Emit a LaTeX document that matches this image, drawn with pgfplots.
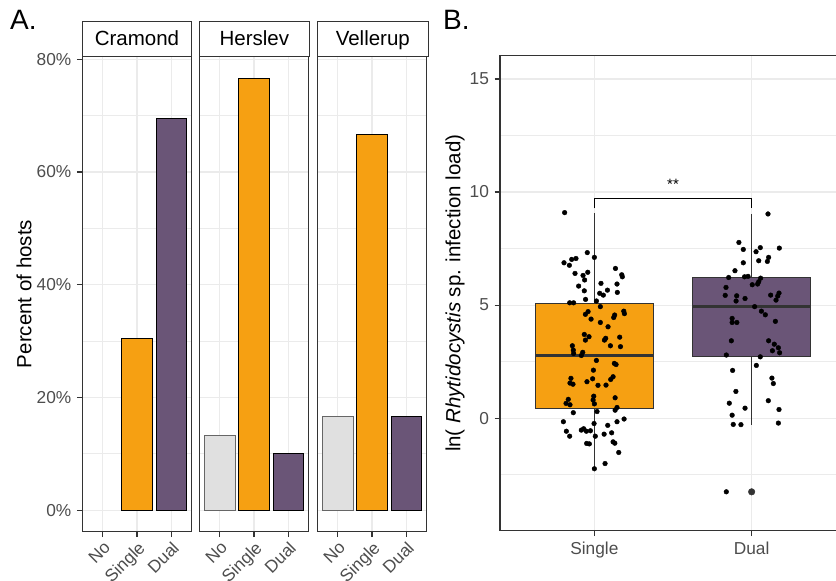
\documentclass[border=0pt]{standalone}
\usepackage{pgfplots}
\pgfplotsset{compat=1.18}
\usepgfplotslibrary{statistics}
\usepackage{fontspec}
\setmainfont{Liberation Sans}
\definecolor{orangeS}{HTML}{F6A012}
\definecolor{purpD}{HTML}{6A5577}
\definecolor{greyN}{HTML}{E0E0E0}
\definecolor{framec}{HTML}{333333}
\definecolor{gridc}{HTML}{EBEBEB}
\definecolor{ticktxt}{HTML}{4D4D4D}

\pgfplotstableread{
x y
0.811 9.09
0.955 7.32
1.000 7.11
0.883 7.06
0.856 7.02
0.807 6.87
0.841 6.76
1.134 6.62
1.174 6.34
1.178 6.25
0.958 6.45
0.877 6.40
0.928 6.31
0.938 6.11
1.042 5.96
1.144 5.93
0.900 5.84
1.083 5.66
0.936 5.63
1.034 5.52
1.057 5.44
1.146 5.56
0.944 5.25
1.013 5.18
0.843 5.10
0.868 5.10
1.038 4.93
0.960 4.71
0.943 4.59
1.187 4.73
1.191 4.62
1.129 4.56
1.123 4.45
0.979 4.38
1.038 4.23
1.087 4.04
0.936 3.70
0.966 3.60
0.943 3.45
1.072 3.53
1.064 3.45
1.161 3.58
1.166 3.16
1.102 3.20
0.860 3.20
0.866 3.01
0.868 2.86
0.926 2.91
0.917 2.77
1.013 2.55
1.127 2.42
1.138 2.37
0.994 2.12
1.119 1.83
1.104 1.71
0.851 1.76
0.845 1.55
0.864 1.50
0.953 1.61
0.989 1.74
1.023 1.45
1.074 1.46
0.834 0.83
0.820 0.65
0.845 0.59
0.996 0.97
0.992 0.80
1.000 0.63
1.132 0.90
1.144 0.47
1.132 0.35
1.017 0.29
0.866 0.24
0.803 -0.16
1.189 -0.04
1.144 -0.16
0.998 -0.24
1.085 -0.32
0.822 -0.58
0.843 -0.80
0.917 -0.53
0.932 -0.47
0.949 -0.58
0.975 -0.56
1.006 -0.80
1.062 -0.71
1.110 -0.65
1.119 -1.05
1.130 -1.11
0.951 -1.12
0.968 -1.14
1.155 -1.52
1.068 -2.01
1.000 -2.24
}\singlepts

\pgfplotstableread{
x y
2.104 9.03
1.919 7.77
1.947 7.46
2.055 7.54
2.028 7.36
2.176 7.52
2.108 7.11
2.100 6.93
2.045 6.96
1.947 6.87
1.894 6.52
1.854 6.22
1.955 6.25
1.977 6.27
2.057 6.19
2.045 6.03
2.038 5.93
2.004 5.90
1.837 5.78
1.832 5.43
1.905 5.41
1.901 5.18
1.958 5.29
2.121 5.44
2.174 5.53
2.166 5.40
2.155 5.22
2.019 4.93
2.062 4.73
2.087 4.57
1.876 4.41
1.876 4.23
1.906 4.23
2.151 4.28
1.871 3.42
2.108 3.42
2.144 3.27
2.170 3.11
2.132 2.98
2.178 2.89
1.839 2.79
2.055 2.71
2.030 2.33
1.879 2.11
2.129 1.77
2.138 1.53
1.900 1.18
1.858 0.66
2.106 0.77
1.958 0.44
2.174 0.38
1.876 0.13
1.883 -0.28
1.932 -0.29
2.170 -0.22
1.839 -3.26
}\dualpts

\pgfplotsset{
  common/.style={
    scale only axis, anchor=south west,
    axis line style={framec, line width=1.1pt},
    xmajorgrids, ymajorgrids, yminorgrids,
    major grid style={gridc, line width=1.1pt},
    minor grid style={gridc, line width=0.55pt},
    tick align=outside, xtick pos=bottom, ytick pos=left,
    major tick length=5.5pt, minor tick length=0pt,
    tick style={framec, line width=1.1pt},
    /pgf/number format/assume math mode=true,
    ticklabel style={font=\fontsize{17.3}{20}\selectfont, text=ticktxt},
    clip=false,
  },
  facet/.style={
    common,
    width=109.4pt, height=475.4pt,
    xmin=0.4, xmax=3.6, ymin=-3.83, ymax=80.53,
    xtick={1,2,3}, xticklabels={No,Single,Dual},
    ytick={0,20,40,60,80},
    minor ytick={10,30,50,70},
    xticklabel style={rotate=45, anchor=north east, inner sep=0pt},
    xticklabel shift=3pt,
    yticklabel shift=2pt,
  },
}

\begin{document}
\begin{tikzpicture}[x=1pt,y=1pt]
\useasboundingbox (0,0) rectangle (836,581);

% ---------- Panel A ----------
\begin{axis}[facet, at={(82.3pt,49.3pt)},
  yticklabels={0\%,20\%,40\%,60\%,80\%},
  ylabel={Percent of hosts},
  every axis y label/.style={at={(axis description cs:-0.533,0.5)}, rotate=90, anchor=center, font=\fontsize{20.5}{24}\selectfont}]
\addplot[ybar, bar shift=0pt, bar width=0.9, fill=orangeS, draw=black, line width=0.6pt] coordinates {(2,30.4)};
\addplot[ybar, bar shift=0pt, bar width=0.9, fill=purpD, draw=black, line width=0.6pt] coordinates {(3,69.6)};
\end{axis}

\begin{axis}[facet, at={(199.3pt,49.3pt)}, yticklabels={}, y tick style={draw=none}]
\addplot[ybar, bar shift=0pt, bar width=0.9, fill=greyN, draw=black!60, line width=0.6pt] coordinates {(1,13.3)};
\addplot[ybar, bar shift=0pt, bar width=0.9, fill=orangeS, draw=black, line width=0.6pt] coordinates {(2,76.7)};
\addplot[ybar, bar shift=0pt, bar width=0.9, fill=purpD, draw=black, line width=0.6pt] coordinates {(3,10.0)};
\end{axis}

\begin{axis}[facet, at={(317.3pt,49.3pt)}, yticklabels={}, y tick style={draw=none}]
\addplot[ybar, bar shift=0pt, bar width=0.9, fill=greyN, draw=black!60, line width=0.6pt] coordinates {(1,16.7)};
\addplot[ybar, bar shift=0pt, bar width=0.9, fill=orangeS, draw=black, line width=0.6pt] coordinates {(2,66.7)};
\addplot[ybar, bar shift=0pt, bar width=0.9, fill=purpD, draw=black, line width=0.6pt] coordinates {(3,16.7)};
\end{axis}

% strips
\foreach \l/\r/\t in {82.3/191.7/Cramond, 199.3/309.3/Herslev, 317.3/428.3/Vellerup}{
  \draw[framec, line width=1.1pt] (\l,524.7) rectangle (\r,559.3);
  \node[anchor=base, inner sep=0pt, font=\fontsize{20.5}{24}\selectfont] at ({(\l+\r)/2},535.2) {\t};
}

\node[anchor=base west, inner sep=0pt, font=\fontsize{28}{32}\selectfont] at (10,551) {A.};
\node[anchor=base west, inner sep=0pt, font=\fontsize{28}{32}\selectfont] at (443,551) {B.};

% ---------- Panel B ----------
\begin{axis}[common, at={(500pt,50.3pt)}, width=346pt, height=475pt,
  xmin=0.4, xmax=2.6, ymin=-4.98, ymax=16.03,
  xtick={1,2}, xticklabels={Single,Dual},
  ytick={0,5,10,15}, minor ytick={-2.5,2.5,7.5,12.5},
  xticklabel shift=2pt, yticklabel shift=2pt,
  ylabel={ln( \textit{Rhytidocystis} sp. infection load)},
  every axis y label/.style={at={(axis description cs:-0.130,0.5)}, rotate=90, anchor=center, font=\fontsize{20.5}{24}\selectfont},
  boxplot/draw direction=y,
  boxplot/every median/.style={line width=2.6pt, draw=framec},
]
\addplot[boxplot prepared={draw direction=y, draw position=1, lower whisker=-2.24, lower quartile=0.41, median=2.77, upper quartile=5.07, upper whisker=9.09, box extend=0.75, whisker extend=0}, fill=orangeS, draw=framec, line width=1.2pt] coordinates {};
\addplot[boxplot prepared={draw direction=y, draw position=2, lower whisker=-0.30, lower quartile=2.71, median=4.93, upper quartile=6.21, upper whisker=9.03, box extend=0.75, whisker extend=0}, fill=purpD, draw=framec, line width=1.2pt] coordinates {};
\addplot[only marks, mark=*, mark size=3.3pt, color=framec] coordinates {(2,-3.26)};
\addplot[only marks, mark=*, mark size=2.35pt, color=black] table[x=x,y=y] {\singlepts};
\addplot[only marks, mark=*, mark size=2.35pt, color=black] table[x=x,y=y] {\dualpts};
\addplot[black, line width=1.1pt, mark=none] coordinates {(1,9.28) (1,9.70) (2,9.70) (2,9.28)};
\node[font=\fontsize{15}{17}\selectfont] at (axis cs:1.5,10.35) {**};
\end{axis}
\end{tikzpicture}
\end{document}
